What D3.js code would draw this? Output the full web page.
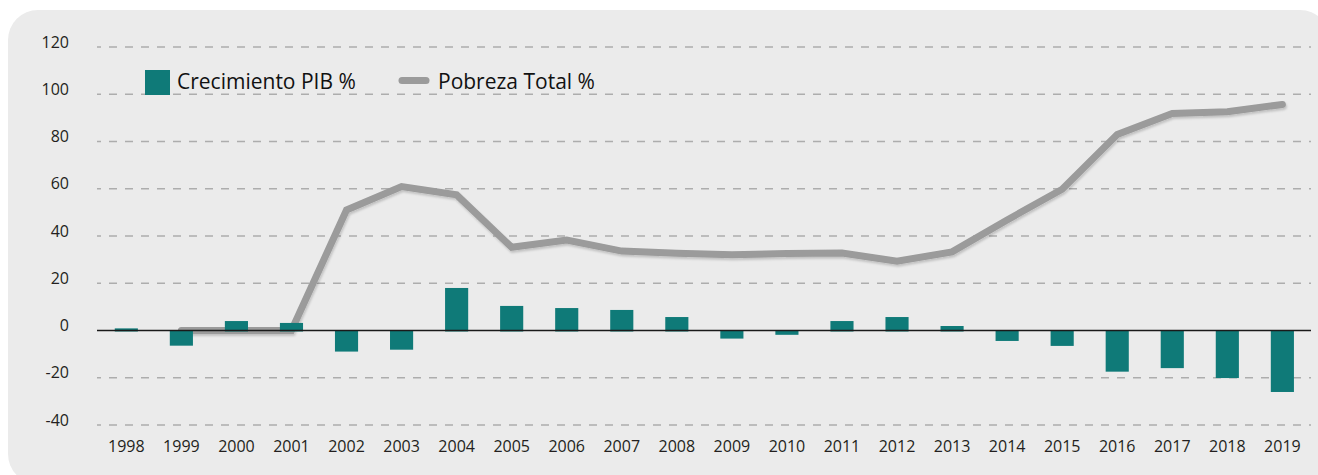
<!DOCTYPE html>
<html>
<head>
<meta charset="utf-8">
<script src="https://cdn.jsdelivr.net/npm/d3@7"></script>
<style>
  body { margin: 0; background: #fff; }
  svg { display: block; font-family: 'Open Sans', sans-serif; }
  .tick-label { fill: #231f20; font-size: 16px; }
  .legend-label { fill: #111; font-size: 21px; }
</style>
</head>
<body>
<svg width="1318" height="475"></svg>
<script>
const years = ['1998','1999','2000','2001','2002','2003','2004','2005','2006','2007','2008',
  '2009','2010','2011','2012','2013','2014','2015','2016','2017','2018','2019'];

// Crecimiento PIB %
const gdpGrowth = [0.9, -6.0, 4.0, 3.2, -8.5, -7.7, 18.0, 10.4, 9.5, 8.7, 5.7,
  -3.0, -1.4, 4.0, 5.7, 1.9, -4.0, -6.1, -17.0, -15.5, -19.7, -25.6];

// Pobreza Total % (no value for 1998)
const poverty = [null, 0, 0, 0, 51.0, 60.9, 57.4, 35.2, 38.3, 33.6, 32.7,
  32.1, 32.6, 32.8, 29.3, 33.3, 46.8, 59.8, 83.0, 91.9, 92.6, 95.7];

const yTicks = [-40, -20, 0, 20, 40, 60, 80, 100, 120];

const barColor = '#0f7a78';
const lineColor = '#9b9b9b';

const svg = d3.select('svg');

// rounded background panel
svg.append('rect')
  .attr('x', 8).attr('y', 10)
  .attr('width', 1322).attr('height', 474)
  .attr('rx', 30).attr('ry', 30)
  .attr('fill', '#ebebeb');

const xScale = d3.scaleBand()
  .domain(years)
  .range([98.8, 1309.9])
  .paddingInner(0.58)
  .paddingOuter(0.29);

const yScale = d3.scaleLinear()
  .domain([-40, 120])
  .range([425, 47]);

const gridLeft = 97, gridRight = 1311;

// dashed gridlines
svg.append('g').selectAll('line')
  .data(yTicks.filter(t => t !== 0))
  .enter().append('line')
    .attr('x1', gridLeft).attr('x2', gridRight)
    .attr('y1', d => yScale(d)).attr('y2', d => yScale(d))
    .attr('stroke', '#adadad')
    .attr('stroke-width', 1.5)
    .attr('stroke-dasharray', '8 8')
    .attr('stroke-dashoffset', 4);

// y labels sit on their gridline
svg.append('g').selectAll('text')
  .data(yTicks)
  .enter().append('text')
    .attr('class', 'tick-label')
    .attr('x', 69)
    .attr('y', d => yScale(d) + 0.5)
    .attr('text-anchor', 'end')
    .text(d => d);

// x labels
svg.append('g').selectAll('text')
  .data(years)
  .enter().append('text')
    .attr('class', 'tick-label')
    .attr('x', d => xScale(d) + xScale.bandwidth() / 2)
    .attr('y', 452)
    .attr('text-anchor', 'middle')
    .text(d => d);

// soft shadow for the line
const defs = svg.append('defs');
defs.append('filter')
  .attr('id', 'shadow')
  .attr('x', '-5%').attr('y', '-20%').attr('width', '110%').attr('height', '140%')
  .append('feDropShadow')
    .attr('dx', 1).attr('dy', 2)
    .attr('stdDeviation', 1.2)
    .attr('flood-color', '#000')
    .attr('flood-opacity', 0.18);

const xMid = d => xScale(d) + xScale.bandwidth() / 2;

const lineGen = d3.line()
  .defined(d => d.v !== null)
  .x(d => xMid(d.year))
  .y(d => yScale(d.v));

svg.append('path')
  .datum(years.map((year, i) => ({ year, v: poverty[i] })))
  .attr('d', lineGen)
  .attr('fill', 'none')
  .attr('stroke', lineColor)
  .attr('stroke-width', 7)
  .attr('stroke-linecap', 'round')
  .attr('filter', 'url(#shadow)');

// bars
svg.append('g').selectAll('rect')
  .data(years.map((year, i) => ({ year, v: gdpGrowth[i] })))
  .enter().append('rect')
    .attr('x', d => xScale(d.year))
    .attr('y', d => yScale(Math.max(0, d.v)))
    .attr('width', xScale.bandwidth())
    .attr('height', d => Math.abs(yScale(d.v) - yScale(0)) + 1)
    .attr('fill', barColor);

// zero line
svg.append('line')
  .attr('x1', gridLeft).attr('x2', gridRight)
  .attr('y1', yScale(0)).attr('y2', yScale(0))
  .attr('stroke', '#1a1a1a')
  .attr('stroke-width', 1.3);

// legend
const legend = svg.append('g');
legend.append('rect')
  .attr('x', 145).attr('y', 70)
  .attr('width', 25).attr('height', 25)
  .attr('fill', barColor);
legend.append('text')
  .attr('class', 'legend-label')
  .attr('x', 177).attr('y', 89)
  .text('Crecimiento PIB %');
legend.append('line')
  .attr('x1', 402).attr('x2', 426)
  .attr('y1', 80.5).attr('y2', 80.5)
  .attr('stroke', lineColor)
  .attr('stroke-width', 7)
  .attr('stroke-linecap', 'round');
legend.append('text')
  .attr('class', 'legend-label')
  .attr('x', 438).attr('y', 89)
  .text('Pobreza Total %');
</script>
</body>
</html>
